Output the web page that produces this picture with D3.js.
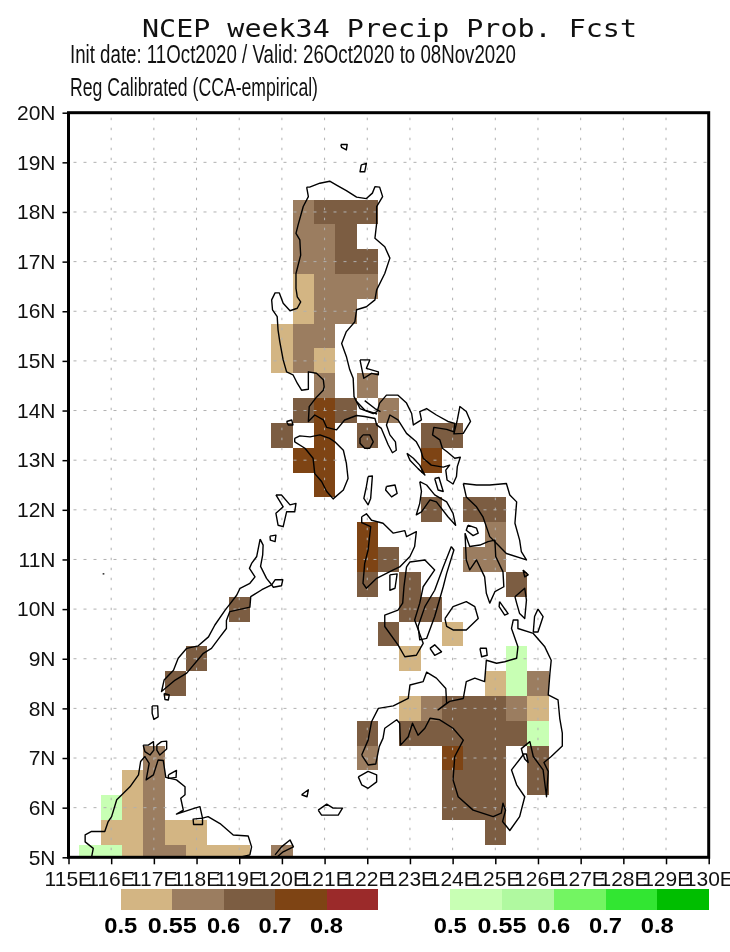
<!DOCTYPE html>
<html>
<head>
<meta charset="utf-8">
<script src="https://cdn.jsdelivr.net/npm/d3@7"></script>
<style>
  html, body { margin: 0; background: #fff; }
  svg { display: block; filter: blur(0.35px); }
</style>
</head>
<body>
<div id="chart"></div>
<script>
const width = 730;
const height = 952;
const margin = { top: 112.7, right: 21.3, bottom: 94.7, left: 68.5 };

const titleText = "NCEP week34 Precip Prob. Fcst";
const subtitleText = "Init date: 11Oct2020 / Valid: 26Oct2020 to 08Nov2020";
const methodText = "Reg Calibrated (CCA-empirical)";

const lonTicks = [115, 116, 117, 118, 119, 120, 121, 122, 123, 124, 125, 126, 127, 128, 129, 130];
const latTicks = [5, 6, 7, 8, 9, 10, 11, 12, 13, 14, 15, 16, 17, 18, 19, 20];

const legendLabels = ["0.5", "0.55", "0.6", "0.7", "0.8"];
const brownColors = ["#d3b583", "#9b7d60", "#7c5d42", "#7e4414", "#9b2a2a"];
const greenColors = ["#c8ffb4", "#b0f9a0", "#73f562", "#32e632", "#00be00"];

// forecast cells, [lon, lat] of the cell centre, one list per legend class
const dry50 = [
  [120.5, 16.5], [120.5, 16], [120, 15.5], [120, 15], [121, 15], [124, 9.5], [123, 9],
  [125, 8.5], [123, 8], [126, 8], [116.5, 6.5], [116.5, 6], [116, 5.5], [116.5, 5.5],
  [117.5, 5.5], [118, 5.5], [116.5, 5], [118, 5], [118.5, 5], [119, 5]
];
const dry55 = [
  [120.5, 18], [120.5, 17.5], [121, 17.5], [120.5, 17], [121, 17], [121, 16.5], [121.5, 16.5],
  [122, 16.5], [121, 16], [121.5, 16], [120.5, 15.5], [121, 15.5], [120.5, 15], [121, 14.5],
  [122, 14.5], [122.5, 14], [125, 11.5], [124.5, 11], [125, 11], [126, 8.5], [123.5, 8],
  [125.5, 8], [122, 7], [117, 7], [117, 6.5], [117, 6], [117, 5.5], [117, 5], [117.5, 5], [120, 5]
];
const dry60 = [
  [121, 18], [121.5, 18], [122, 18], [121.5, 17.5], [121.5, 17], [122, 17], [120.5, 14],
  [121.5, 14], [120, 13.5], [122, 13.5], [123.5, 13.5], [124, 13.5], [123.5, 12], [124.5, 12],
  [125, 12], [122.5, 11], [122, 10.5], [123, 10.5], [125.5, 10.5], [123, 10], [123.5, 10],
  [119, 10], [122.5, 9.5], [118, 9], [117.5, 8.5], [124, 8], [124.5, 8], [125, 8], [122, 7.5],
  [123, 7.5], [123.5, 7.5], [124, 7.5], [124.5, 7.5], [125, 7.5], [125.5, 7.5], [124.5, 7],
  [125, 7], [126, 7], [124, 6.5], [124.5, 6.5], [125, 6.5], [126, 6.5], [124, 6], [124.5, 6],
  [125, 6], [125, 5.5]
];
const dry70 = [
  [121, 14], [121, 13.5], [120.5, 13], [121, 13], [123.5, 13], [121, 12.5], [122, 11.5],
  [122, 11], [124, 7]
];
const wet50 = [
  [125.5, 9], [125.5, 8.5], [126, 7.5], [116, 6], [115.5, 5], [116, 5]
];

// coastlines, [lon, lat]
const luzon = [
  [120.58,18.50],[120.65,18.50],[120.89,18.58],[121.12,18.62],[121.28,18.54],[121.51,18.43],[121.75,18.30],
  [121.98,18.27],[122.12,18.38],[122.18,18.51],[122.29,18.50],[122.36,18.31],[122.22,18.11],[122.22,17.77],
  [122.18,17.47],[122.41,17.30],[122.53,17.07],[122.41,16.76],[122.22,16.43],[122.18,16.23],[121.98,16.09],
  [121.75,16.03],[121.71,15.79],[121.51,15.59],[121.40,15.35],[121.51,15.09],[121.59,14.82],[121.67,14.65],
  [121.69,14.28],[121.83,14.04],[122.14,13.94],[122.23,13.98],[122.29,14.15],[122.45,14.31],[122.72,14.31],
  [122.92,14.15],[123.04,13.94],[123.08,13.71],[123.27,13.81],[123.23,13.98],[123.39,14.04],[123.62,13.91],
  [123.89,13.78],[124.05,13.74],[124.03,13.57],[123.86,13.62],[123.56,13.66],[123.53,13.51],[123.70,13.41],
  [123.76,13.24],[123.87,13.17],[124.05,13.04],[124.18,13.06],[124.11,12.87],[124.09,12.67],[124.01,12.52],
  [123.87,12.60],[123.84,12.80],[123.93,12.90],[123.78,12.86],[123.50,12.90],[123.31,13.04],[123.25,13.21],
  [123.15,13.37],[122.92,13.54],[122.72,13.81],[122.53,13.91],[122.45,13.71],[122.53,13.51],[122.66,13.37],
  [122.68,13.20],[122.59,13.15],[122.49,13.31],[122.33,13.64],[122.22,13.71],[122.18,13.84],[121.94,13.88],
  [121.75,13.90],[121.47,13.81],[121.28,13.61],[121.05,13.66],[120.97,13.81],[120.77,13.91],[120.62,13.78],
  [120.64,14.08],[120.81,14.27],[120.97,14.41],[120.99,14.48],[120.97,14.62],[120.81,14.75],[120.62,14.78],
  [120.62,14.43],[120.46,14.41],[120.36,14.55],[120.26,14.72],[120.11,14.78],[120.03,15.02],[119.95,15.39],
  [119.91,15.62],[119.89,15.89],[119.78,16.03],[119.76,16.23],[119.84,16.37],[119.94,16.37],[120.03,16.16],
  [120.19,16.01],[120.36,16.06],[120.44,16.19],[120.36,16.29],[120.33,16.46],[120.33,16.76],[120.44,17.13],
  [120.42,17.44],[120.33,17.57],[120.38,17.74],[120.50,18.11],[120.62,18.31],[120.58,18.50]
];
const polillo = [[121.83,15.02],[122.06,15.02],[121.98,14.85],[122.26,14.78],[122.26,14.72],[122.10,14.75],[121.92,14.65],[121.87,14.85],[121.83,15.02]];
const batanes = [[121.38,19.36],[121.53,19.36],[121.51,19.25],[121.40,19.30],[121.38,19.36]];
const babuyan = [[121.86,18.95],[121.98,18.98],[121.94,18.81],[121.83,18.81],[121.86,18.95]];
const marinduque = [[121.90,13.51],[122.06,13.51],[122.14,13.37],[122.06,13.24],[121.94,13.24],[121.83,13.34],[121.83,13.44],[121.90,13.51]];
const lamonA = [[121.75,14.18],[121.94,14.01],[122.23,13.93]];
const lamonB = [[121.94,14.20],[122.18,14.04],[122.31,13.98]];
const catanduanes = [[124.11,13.81],[124.17,14.08],[124.32,13.98],[124.42,13.78],[124.25,13.54],[124.03,13.53],[124.11,13.81]];
const mindoro = [[120.30,13.44],[120.42,13.49],[120.66,13.47],[120.89,13.51],[121.12,13.44],[121.24,13.37],[121.44,13.20],[121.51,12.94],[121.55,12.63],[121.44,12.40],[121.20,12.22],[121.05,12.37],[120.93,12.57],[120.77,12.73],[120.73,13.04],[120.54,13.24],[120.30,13.37],[120.30,13.44]];
const lubang = [[120.11,13.78],[120.23,13.81],[120.26,13.71],[120.15,13.71],[120.11,13.78]];
const tablas = [[122.02,12.67],[122.12,12.68],[122.08,12.23],[122.02,12.10],[121.92,12.23],[121.98,12.47],[122.02,12.67]];
const sibuyan = [[122.45,12.47],[122.65,12.50],[122.70,12.33],[122.57,12.26],[122.43,12.40],[122.45,12.47]];
const masbate = [[123.23,12.57],[123.39,12.50],[123.58,12.30],[123.86,12.16],[124.01,11.93],[124.07,11.69],[123.89,11.86],[123.62,12.16],[123.47,12.20],[123.27,11.96],[123.15,11.90],[123.23,12.13],[123.27,12.37],[123.23,12.57]];
const ticao = [[123.58,12.63],[123.68,12.65],[123.78,12.37],[123.66,12.40],[123.58,12.63]];
const burias = [[122.93,13.14],[123.08,13.04],[123.23,12.90],[123.35,12.70],[123.19,12.83],[123.00,13.00],[122.93,13.14]];
const samar = [[124.25,12.53],[124.56,12.50],[124.87,12.50],[125.26,12.53],[125.34,12.30],[125.50,12.16],[125.46,11.73],[125.57,11.39],[125.61,11.16],[125.73,10.99],[125.26,11.12],[125.03,11.32],[124.87,11.46],[124.71,11.86],[124.56,12.06],[124.32,12.26],[124.25,12.53]];
const homonhon = [[125.65,10.79],[125.77,10.69],[125.69,10.65],[125.65,10.79]];
const leyte = [[124.29,11.53],[124.40,11.26],[124.64,11.29],[124.83,11.36],[124.99,11.39],[125.01,11.06],[125.18,10.75],[125.20,10.45],[124.99,10.35],[124.87,10.12],[124.79,10.32],[124.75,10.65],[124.56,10.99],[124.40,10.79],[124.32,10.99],[124.29,11.53]];
const biliran = [[124.36,11.69],[124.56,11.63],[124.60,11.53],[124.48,11.48],[124.32,11.59],[124.36,11.69]];
const panaon = [[125.10,10.15],[125.30,9.91],[125.22,9.88],[125.09,10.05],[125.10,10.15]];
const dinagat = [[125.46,10.25],[125.69,10.42],[125.73,10.18],[125.69,9.81],[125.57,9.91],[125.50,10.12],[125.46,10.25]];
const siargao = [[126.00,10.00],[126.12,9.85],[126.00,9.54],[125.89,9.54],[125.92,9.85],[126.00,10.00]];
const bohol = [[123.82,9.81],[124.01,10.05],[124.32,10.15],[124.52,10.05],[124.60,9.81],[124.32,9.58],[124.01,9.58],[123.86,9.65],[123.82,9.81]];
const cebu = [[123.97,11.26],[124.03,11.19],[123.86,10.72],[123.78,10.45],[123.58,9.85],[123.39,9.41],[123.23,9.38],[123.19,9.65],[123.35,10.05],[123.58,10.38],[123.78,10.85],[123.97,11.26]];
const siquijor = [[123.47,9.21],[123.58,9.28],[123.74,9.14],[123.58,9.07],[123.47,9.21]];
const camiguin = [[124.64,9.21],[124.79,9.21],[124.81,9.07],[124.68,9.04],[124.64,9.21]];
const negros = [[122.92,10.85],[123.00,10.95],[123.35,10.99],[123.58,10.79],[123.31,10.45],[123.23,10.12],[123.11,9.78],[123.31,9.31],[123.15,9.07],[122.88,9.04],[122.72,9.28],[122.41,9.65],[122.41,9.88],[122.72,9.98],[122.83,10.12],[122.86,10.45],[122.92,10.85]];
const guimaras = [[122.53,10.69],[122.70,10.71],[122.65,10.42],[122.53,10.38],[122.53,10.69]];
const panay = [[121.87,11.86],[121.98,11.92],[122.10,11.79],[122.37,11.73],[122.61,11.53],[122.88,11.58],[122.92,11.46],[123.15,11.56],[123.11,11.26],[123.00,11.06],[122.76,10.85],[122.61,10.79],[122.22,10.62],[121.98,10.42],[121.90,10.52],[121.94,10.92],[122.02,11.19],[122.08,11.66],[121.87,11.74],[121.87,11.86]];
const busuanga = [[119.86,12.30],[119.99,12.30],[120.19,12.10],[120.33,12.13],[120.30,11.96],[120.11,11.96],[120.03,11.66],[119.91,11.69],[119.86,11.93],[120.03,12.06],[119.86,12.30]];
const linapacan = [[119.72,11.47],[119.86,11.49],[119.84,11.36],[119.73,11.39],[119.72,11.47]];
const palawan = [[119.49,11.41],[119.56,11.29],[119.55,11.09],[119.50,10.86],[119.64,10.62],[119.76,10.49],[119.53,10.39],[119.27,10.25],[119.25,10.04],[118.78,9.95],[118.70,9.77],[118.70,9.61],[118.55,9.44],[118.35,9.21],[118.16,9.11],[117.77,8.71],[117.50,8.57],[117.18,8.34],[117.24,8.57],[117.46,8.77],[117.57,9.01],[117.77,9.21],[118.04,9.26],[118.28,9.44],[118.43,9.68],[118.67,9.98],[118.78,10.10],[118.94,10.28],[119.02,10.42],[119.25,10.52],[119.37,10.65],[119.24,10.82],[119.29,10.92],[119.41,11.06],[119.49,11.41]];
const dumaran = [[119.76,10.49],[119.84,10.59],[120.02,10.59],[119.99,10.47],[119.80,10.44],[119.76,10.49]];
const balabac = [[117.24,8.30],[117.36,8.27],[117.34,8.17],[117.26,8.18],[117.24,8.30]];
const bancalan = [[116.96,8.05],[117.09,8.05],[117.10,7.83],[117.00,7.78],[116.96,7.90],[116.96,8.05]];
const speck = [[115.80,10.71],[115.84,10.71]];
const mindanao = [
  [121.87,7.06],[122.02,6.86],[122.20,6.88],[122.28,7.23],[122.37,7.40],[122.41,7.60],[122.69,7.77],[122.76,7.70],
  [122.78,7.26],[122.96,7.43],[123.06,7.70],[123.19,7.46],[123.35,7.60],[123.47,7.80],[123.70,7.77],[124.01,7.60],
  [124.25,7.36],[124.05,7.03],[124.01,6.56],[124.13,6.22],[124.48,5.95],[124.95,5.82],[125.14,5.89],[125.18,6.09],
  [125.24,5.95],[125.17,5.72],[125.34,5.54],[125.57,5.82],[125.69,6.22],[125.50,6.46],[125.38,6.76],[125.65,7.06],
  [125.61,7.19],[125.81,7.33],[125.89,7.03],[126.12,6.76],[126.20,6.22],[126.24,6.73],[126.14,6.91],[126.31,7.03],
  [126.57,7.24],[126.57,7.50],[126.51,7.80],[126.47,8.17],[126.24,8.27],[126.28,8.71],[126.31,8.97],[126.16,9.24],
  [125.89,9.51],[125.53,9.61],[125.53,9.78],[125.42,9.78],[125.38,9.61],[125.53,9.24],[125.50,9.01],[125.22,8.94],
  [125.03,8.91],[124.79,8.97],[124.75,8.54],[124.52,8.61],[124.32,8.54],[124.25,8.20],[123.93,8.14],[123.66,7.97],
  [123.86,8.10],[123.84,8.40],[123.62,8.61],[123.39,8.73],[123.31,8.54],[123.00,8.47],[122.96,8.20],[122.61,8.05],
  [122.26,8.00],[122.10,7.73],[122.02,7.36],[121.87,7.06]
];
const basilan = [[121.79,6.62],[122.02,6.73],[122.22,6.66],[122.22,6.52],[122.02,6.39],[121.87,6.46],[121.79,6.62]];
const samal = [[125.65,7.08],[125.73,7.08],[125.77,6.91],[125.69,6.98],[125.65,7.08]];
const cagayanSulu = [[120.46,6.26],[120.62,6.36],[120.59,6.22],[120.46,6.26]];
const jolo = [[120.85,5.95],[121.05,6.07],[121.20,5.99],[121.42,5.99],[121.32,5.85],[120.93,5.85],[120.85,5.95]];
const sabah = [
  [115.54,5.00],[115.58,5.18],[115.39,5.31],[115.39,5.45],[115.54,5.52],[115.85,5.52],[115.93,5.72],[116.01,5.82],
  [116.13,6.16],[116.25,6.26],[116.44,6.42],[116.64,6.66],[116.69,6.93],[116.79,7.03],[116.89,6.89],[116.82,6.56],
  [116.99,6.66],[117.10,6.96],[117.22,6.95],[117.28,6.61],[117.53,6.56],[117.73,6.42],[117.73,6.26],[117.63,6.19],
  [117.69,5.95],[117.53,5.87],[117.96,5.99],[118.08,6.02],[118.14,5.79],[117.92,5.77],[117.93,5.66],[118.14,5.66],
  [118.14,5.79],[118.27,5.82],[118.55,5.68],[118.86,5.45],[119.21,5.43],[119.29,5.21],[119.25,5.05],[119.02,5.00]
];
const banggi = [[117.34,6.66],[117.53,6.75],[117.52,6.61],[117.34,6.59],[117.34,6.66]];
const balambanganA = [[116.75,7.26],[116.87,7.26],[116.99,7.33],[117.00,7.16],[116.91,7.06],[116.79,7.13],[116.75,7.26]];
const balambanganB = [[117.07,7.26],[117.18,7.33],[117.30,7.34],[117.30,7.18],[117.14,7.06],[117.07,7.16],[117.07,7.26]];
const tawi = [[119.84,5.05],[119.99,5.21],[120.19,5.35],[120.27,5.21],[120.03,5.11],[119.88,5.00]];

const coasts = [
  luzon, polillo, batanes, babuyan, marinduque, lamonA, lamonB, catanduanes, mindoro, lubang, tablas, sibuyan,
  masbate, ticao, burias, samar, homonhon, leyte, biliran, panaon, dinagat, siargao, bohol, cebu, siquijor,
  camiguin, negros, guimaras, panay, busuanga, linapacan, palawan, dumaran, balabac, bancalan, speck, mindanao,
  basilan, samal, cagayanSulu, jolo, sabah, banggi, balambanganA, balambanganB, tawi
];

const svg = d3.select("#chart")
  .append("svg")
  .attr("width", width)
  .attr("height", height)
  .attr("viewBox", `0 0 ${width} ${height}`);

const x = d3.scaleLinear()
  .domain([115, 130])
  .range([margin.left, width - margin.right]);
const y = d3.scaleLinear()
  .domain([5, 20])
  .range([height - margin.bottom, margin.top]);

svg.append("clipPath").attr("id", "plot-clip")
  .append("rect")
  .attr("x", x(115))
  .attr("y", y(20))
  .attr("width", x(130) - x(115))
  .attr("height", y(5) - y(20));

const plot = svg.append("g").attr("clip-path", "url(#plot-clip)");

// cells
const cellGroups = [
  [dry50, brownColors[0]], [dry55, brownColors[1]], [dry60, brownColors[2]],
  [dry70, brownColors[3]], [wet50, greenColors[0]]
];
cellGroups.forEach(([cells, color]) => {
  plot.selectAll(null)
    .data(cells)
    .join("rect")
    .attr("x", d => x(d[0] - 0.25))
    .attr("y", d => y(d[1] + 0.25))
    .attr("width", d => x(d[0] + 0.25) - x(d[0] - 0.25))
    .attr("height", d => y(d[1] - 0.25) - y(d[1] + 0.25))
    .attr("fill", color)
    .attr("shape-rendering", "crispEdges");
});

// dotted grid
plot.selectAll(null)
  .data(lonTicks.slice(1, -1))
  .join("line")
  .attr("x1", d => x(d)).attr("x2", d => x(d))
  .attr("y1", y(20) + 5).attr("y2", y(5))
  .attr("stroke", "#b0b0b0")
  .attr("stroke-dasharray", "2.5 7.5");
plot.selectAll(null)
  .data(latTicks.slice(1, -1))
  .join("line")
  .attr("x1", x(115) + 5).attr("x2", x(130))
  .attr("y1", d => y(d)).attr("y2", d => y(d))
  .attr("stroke", "#b0b0b0")
  .attr("stroke-dasharray", "3 7");

// coast
const coastLine = d3.line().x(d => x(d[0])).y(d => y(d[1]));
plot.selectAll(null)
  .data(coasts)
  .join("path")
  .attr("d", coastLine)
  .attr("fill", "none")
  .attr("stroke", "#000")
  .attr("stroke-width", 1.4)
  .attr("stroke-linejoin", "round");

// frame
svg.append("rect")
  .attr("x", x(115))
  .attr("y", y(20))
  .attr("width", x(130) - x(115))
  .attr("height", y(5) - y(20))
  .attr("fill", "none")
  .attr("stroke", "#000")
  .attr("stroke-width", 3);

// axes
const xAxis = d3.axisBottom(x)
  .tickValues(lonTicks)
  .tickSize(7)
  .tickFormat(d => d + "E");
const yAxis = d3.axisLeft(y)
  .tickValues(latTicks)
  .tickSize(6)
  .tickFormat(d => d + "N");

const xAxisG = svg.append("g")
  .attr("transform", `translate(0, ${y(5)})`)
  .call(xAxis);
const yAxisG = svg.append("g")
  .attr("transform", `translate(${x(115)}, 0)`)
  .call(yAxis);
xAxisG.select(".domain").remove();
yAxisG.select(".domain").remove();
svg.selectAll(".tick line").attr("stroke-width", 1.5);

// the labels are wider than the tick spacing, each E runs into the next 1 as in the original
xAxisG.selectAll("text")
  .attr("x", -24.4)
  .attr("y", 9)
  .attr("dy", "0.95em")
  .attr("text-anchor", "start")
  .attr("font-family", "'Liberation Sans', sans-serif")
  .attr("font-size", 21)
  .attr("fill", "#111");
yAxisG.selectAll("text")
  .attr("x", -13)
  .attr("font-family", "'Liberation Sans', sans-serif")
  .attr("font-size", 21)
  .attr("fill", "#111");

// titles
svg.append("text")
  .attr("x", 142)
  .attr("y", 37)
  .attr("font-family", "'DejaVu Sans Mono', monospace")
  .attr("font-size", 25)
  .attr("fill", "#111")
  .attr("textLength", 495)
  .attr("lengthAdjust", "spacingAndGlyphs")
  .text(titleText);
svg.append("text")
  .attr("x", 70)
  .attr("y", 63)
  .attr("font-family", "'Liberation Sans', sans-serif")
  .attr("font-size", 25)
  .attr("fill", "#111")
  .attr("textLength", 446)
  .attr("lengthAdjust", "spacingAndGlyphs")
  .text(subtitleText);
svg.append("text")
  .attr("x", 70)
  .attr("y", 96)
  .attr("font-family", "'Liberation Sans', sans-serif")
  .attr("font-size", 25)
  .attr("fill", "#111")
  .attr("textLength", 248)
  .attr("lengthAdjust", "spacingAndGlyphs")
  .text(methodText);

// colour keys
function drawKey(colors, x0, x1) {
  const k = d3.scaleLinear().domain([0, colors.length]).range([x0, x1]);
  svg.selectAll(null)
    .data(colors)
    .join("rect")
    .attr("x", (d, i) => k(i))
    .attr("y", 889)
    .attr("width", (d, i) => k(i + 1) - k(i))
    .attr("height", 21)
    .attr("fill", d => d)
    .attr("shape-rendering", "crispEdges");
  svg.selectAll(null)
    .data(legendLabels)
    .join("text")
    .attr("x", (d, i) => k(i) - (d.length > 3 ? 24.5 : 16.5))
    .attr("y", 933)
    .attr("font-family", "'Liberation Sans', sans-serif")
    .attr("font-weight", "bold")
    .attr("font-size", 22)
    .attr("fill", "#000")
    .attr("textLength", d => d.length > 3 ? 49 : 33)
    .attr("lengthAdjust", "spacingAndGlyphs")
    .text(d => d);
}
drawKey(brownColors, 120.7, 378);
drawKey(greenColors, 450.3, 709);
</script>
</body>
</html>
